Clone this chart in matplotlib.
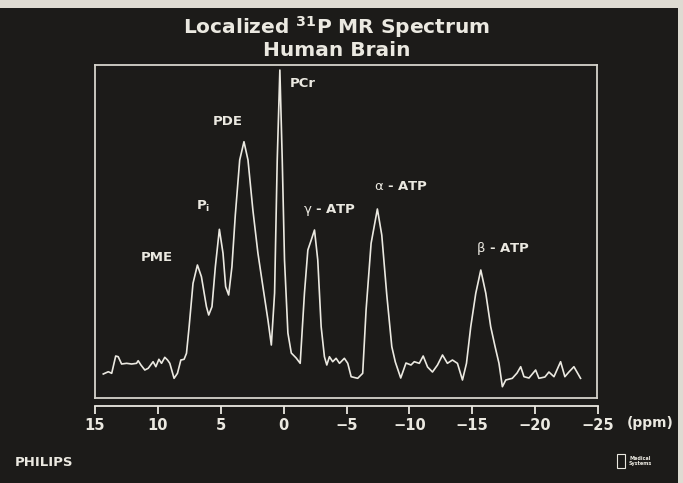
#!/usr/bin/env python3
# -*- coding: utf-8 -*-
"""Localized 31P MR spectrum of the human brain (Philips slide)."""
import matplotlib
matplotlib.use("Agg")
import matplotlib.pyplot as plt
from matplotlib.patches import Rectangle

# --- Spectrum: chemical shift (ppm) and intensity (PCr = 100) ---
ppm = [
    14.34, 13.94, 13.67, 13.35, 13.15, 12.88, 12.48, 12.08, 11.69, 11.56,
    11.34, 11.03, 10.76, 10.37, 10.15, 9.91, 9.70, 9.44, 9.22, 9.04,
    8.70, 8.43, 8.16, 7.90, 7.71, 7.50, 7.19, 6.84, 6.52, 6.12,
    5.94, 5.68, 5.41, 5.09, 4.80, 4.59, 4.35, 4.09, 3.82, 3.47,
    3.13, 2.81, 2.42, 2.02, 1.62, 1.22, 0.95, 0.69, 0.48, 0.27,
    0.08, -0.10, -0.37, -0.64, -1.03, -1.35, -1.69, -1.96, -2.23, -2.49,
    -2.75, -3.02, -3.28, -3.47, -3.68, -3.94, -4.21, -4.48, -4.87, -5.14,
    -5.41, -5.93, -6.33, -6.60, -7.00, -7.50, -7.85, -8.25, -8.65, -8.93,
    -9.36, -9.78, -10.18, -10.44, -10.84, -11.15, -11.50, -11.89, -12.29, -12.69,
    -13.08, -13.48, -13.88, -14.28, -14.60, -14.94, -15.34, -15.74, -16.14, -16.53,
    -16.88, -17.19, -17.46, -17.73, -18.25, -18.63, -18.92, -19.18, -19.58, -20.11,
    -20.37, -20.85, -21.17, -21.57, -22.10, -22.44, -22.76, -23.16, -23.69,
]
intensity = [
    -1.33, -0.57, -1.10, 4.67, 4.43, 2.00, 2.23, 2.00, 2.23, 3.10,
    1.67, 0.00, 0.57, 2.77, 1.10, 3.57, 2.23, 4.23, 3.33, 2.23,
    -2.77, -1.10, 3.33, 3.57, 5.57, 14.43, 28.90, 35.00, 31.10, 21.10,
    18.33, 21.10, 34.43, 46.90, 38.90, 27.77, 25.00, 34.43, 51.67, 70.00,
    76.10, 70.00, 53.33, 39.00, 27.77, 16.67, 8.33, 25.67, 70.00, 100.00,
    70.00, 36.67, 12.33, 5.67, 4.00, 2.23, 25.67, 40.00, 43.33, 46.67,
    36.67, 14.43, 4.43, 1.67, 4.43, 2.77, 3.90, 2.23, 3.90, 2.23,
    -2.23, -2.77, -1.10, 20.00, 42.23, 53.67, 45.00, 25.00, 7.77, 2.67,
    -2.67, 2.33, 1.67, 2.77, 2.23, 4.67, 1.00, -0.67, 1.67, 5.00,
    2.23, 3.33, 2.23, -3.33, 2.23, 14.43, 25.57, 33.33, 25.57, 14.43,
    7.77, 2.23, -5.57, -3.33, -2.77, -1.00, 1.10, -2.23, -2.67, 0.00,
    -2.77, -2.33, -0.67, -2.23, 2.77, -2.23, -0.67, 1.10, -2.77,
]

# Peak labels and where they sit (ppm, intensity)
peak_names = ["PME", r"P$_{\mathbf{i}}$", "PDE", "PCr",
              r"$\mathrm{\gamma}$ - ATP", r"$\mathrm{\alpha}$ - ATP",
              r"$\mathrm{\beta}$ - ATP"]
peak_x = [10.10, 6.39, 4.40, -1.56, -3.68, -9.38, -17.51]
peak_y = [37.6, 54.4, 82.8, 95.6, 53.3, 61.1, 40.6]

tick_values = [15, 10, 5, 0, -5, -10, -15, -20, -25]

# Colori
BG = "#1c1b19"
PAPER = "#dedbd2"
INK = "#ebe9e1"

FONT = ["DejaVu Sans"]


def main():
    fig = plt.figure(figsize=(6.83, 4.83), dpi=100, facecolor=PAPER)
    # dark slide area (the light border is the edge of the photo)
    fig.patches.append(Rectangle((0, 0), 678 / 683, 1 - 8 / 483,
                                 transform=fig.transFigure, facecolor=BG,
                                 edgecolor="none", zorder=-5))

    # --- main boxed spectrum ---
    ax = fig.add_axes([95 / 683, 85 / 483, 502 / 683, 333 / 483])
    ax.set_facecolor("none")
    ax.plot(ppm, intensity, color=INK, lw=1.2, solid_joinstyle="round")
    ax.set_xlim(15, -25)
    ax.set_ylim(-9.33, 101.67)
    ax.set_xticks([])
    ax.set_yticks([])
    for s in ax.spines.values():
        s.set_color("#d6d4cc")
        s.set_linewidth(1.3)

    for name, x, y in zip(peak_names, peak_x, peak_y):
        ax.text(x, y, name, color=INK, fontsize=9.5, fontweight="bold",
                family=FONT, ha="center", va="center")

    # --- ppm scale under the box ---
    ax2 = fig.add_axes([95 / 683, 1 - 406 / 483, 503 / 683, 0.001])
    ax2.set_facecolor("none")
    ax2.set_xlim(15, -25)
    ax2.set_yticks([])
    for side in ("top", "left", "right"):
        ax2.spines[side].set_visible(False)
    ax2.spines["bottom"].set_color(INK)
    ax2.spines["bottom"].set_linewidth(1.3)
    ax2.set_xticks(tick_values)
    ax2.set_xticklabels([f"{v}" if v >= 0 else f"\u2212{-v}" for v in tick_values])
    ax2.tick_params(axis="x", direction="out", length=5.5, width=1.3,
                    color=INK, labelcolor=INK, pad=3.5, labelsize=10.5)
    for lbl in ax2.get_xticklabels():
        lbl.set_fontweight("bold")
        lbl.set_family(FONT)

    fig.text(650 / 683, 1 - 423 / 483, "(ppm)", color=INK, fontsize=10,
             fontweight="bold", family=FONT, ha="center", va="center")

    # --- title ---
    fig.text(337 / 683, 1 - 27 / 483, r"Localized $^{\mathbf{31}}$P MR Spectrum",
             color=INK, fontsize=14.5, fontweight="bold", family=FONT,
             ha="center", va="center")
    fig.text(337 / 683, 1 - 51 / 483, "Human Brain", color=INK, fontsize=14.5,
             fontweight="bold", family=FONT, ha="center", va="center")

    # --- brand marks ---
    fig.text(15 / 683, 1 - 462 / 483, "PHILIPS", color=INK, fontsize=9.5,
             fontweight="bold", family=FONT, ha="left", va="center")
    fig.text(629 / 683, 1 - 461 / 483, "Medical\nSystems", color=INK,
             fontsize=3.5, fontweight="bold", family=FONT, ha="left",
             va="center", linespacing=1.1)
    fig.patches.append(Rectangle((617 / 683, 1 - 468 / 483), 8 / 683, 14 / 483,
                                 transform=fig.transFigure, facecolor="none",
                                 edgecolor=INK, lw=0.8))

    fig.savefig("out.png", dpi=100, facecolor=PAPER)


if __name__ == "__main__":
    main()
